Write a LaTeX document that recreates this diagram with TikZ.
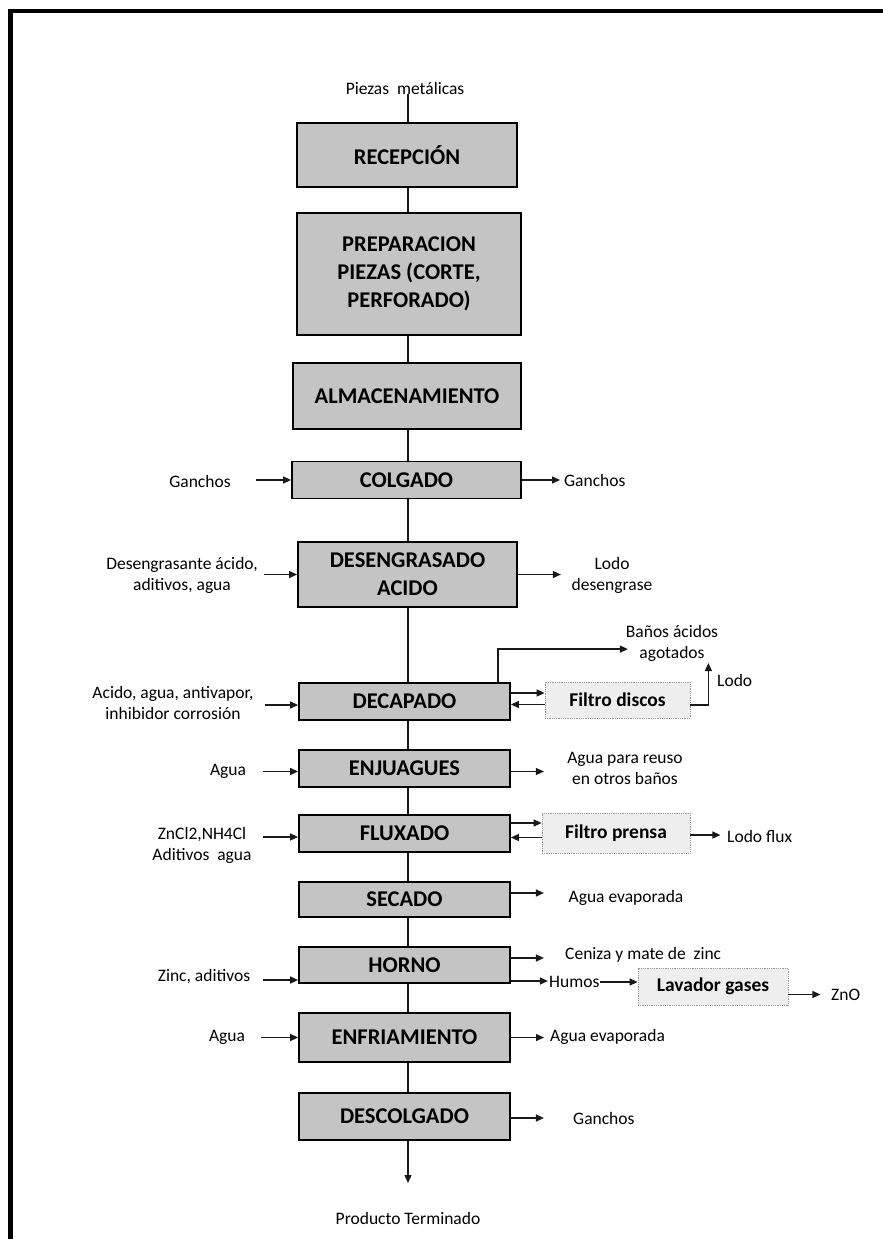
\documentclass[tikz,border=0pt]{standalone}
\usepackage{fontspec}
\setmainfont{Carlito}
\usetikzlibrary{arrows.meta,calc}
\definecolor{boxgray}{HTML}{C4C4C4}
\definecolor{filtfill}{HTML}{EEEEEE}
\definecolor{filtline}{HTML}{9A9A9A}
\begin{document}
\begin{tikzpicture}[x=1pt,y=-1pt,
  box/.style={draw=black, line width=1.8pt, fill=boxgray, inner sep=0pt, align=center,
    font=\fontsize{22.5}{28}\selectfont\bfseries},
  filt/.style={draw=filtline, densely dotted, line width=0.8pt, fill=filtfill, inner sep=0pt,
    font=\fontsize{19.5}{22}\selectfont\bfseries},
  lbl/.style={inner sep=0pt, align=center, font=\fontsize{17.5}{21}\selectfont},
  conn/.style={line width=1.4pt, draw=black!90},
  arr/.style={conn, -{Triangle[length=8pt,width=7pt]}}]
\useasboundingbox (0,0) rectangle (883,1239);
\fill[white] (0,0) rectangle (883,1239);
% frame
\draw[line width=4pt] (8,11.5) -- (883,11.5);
\draw[line width=5pt] (10.5,9.5) -- (10.5,1239);
\coordinate (spine) at (408,0);
% main boxes
\node[lbl] (piezas) at (405,88) {Piezas\ \ metálicas};
\node[box, minimum width=220pt, minimum height=64pt] (rec) at (407,155) {RECEPCIÓN};
\node[box, minimum width=224pt, minimum height=122pt] (prep) at (409,274) {PREPARACION\\PIEZAS (CORTE,\\PERFORADO)};
\node[box, minimum width=228pt, minimum height=66pt] (alm) at (407,396) {ALMACENAMIENTO};
\node[box, minimum width=229pt, minimum height=37pt] (colg) at (406.5,480) {COLGADO};
\node[box, minimum width=219pt, minimum height=65pt] (des) at (407.5,574.5) {DESENGRASADO\\ACIDO};
\node[box, minimum width=211pt, minimum height=37pt] (dec) at (404.5,701.5) {DECAPADO};
\node[box, minimum width=211pt, minimum height=37pt] (enj) at (404.5,768.5) {ENJUAGUES};
\node[box, minimum width=211pt, minimum height=37pt] (flu) at (404.5,833.5) {FLUXADO};
\node[box, minimum width=211pt, minimum height=35pt] (sec) at (404.5,899.5) {SECADO};
\node[box, minimum width=211pt, minimum height=36pt] (hor) at (404.5,965) {HORNO};
\node[box, minimum width=211pt, minimum height=49pt] (enf) at (404.5,1037.5) {ENFRIAMIENTO};
\node[box, minimum width=211pt, minimum height=47pt] (desc) at (404.5,1116.5) {DESCOLGADO};
\node[lbl] (prod) at (408,1218) {Producto\ Terminado};
\coordinate (pend) at (408,1183);
% filters
\node[filt, minimum width=145pt, minimum height=36pt] (fd) at (617.5,700) {Filtro discos};
\node[filt, minimum width=148pt, minimum height=40pt] (fp) at (616,833) {Filtro prensa};
\node[filt, minimum width=150pt, minimum height=37pt] (lav) at (713,986.5) {Lavador gases};
% spine
\draw[conn] (piezas.south -| spine) -- (rec.north -| spine);
\draw[conn] (rec.south -| spine) -- (prep.north -| spine);
\draw[conn] (prep.south -| spine) -- (alm.north -| spine);
\draw[conn] (alm.south -| spine) -- (colg.north -| spine);
\draw[conn] (colg.south -| spine) -- (des.north -| spine);
\draw[conn] (des.south -| spine) -- (dec.north -| spine);
\draw[conn] (dec.south -| spine) -- (enj.north -| spine);
\draw[conn] (enj.south -| spine) -- (flu.north -| spine);
\draw[conn] (flu.south -| spine) -- (sec.north -| spine);
\draw[conn] (sec.south -| spine) -- (hor.north -| spine);
\draw[conn] (hor.south -| spine) -- (enf.north -| spine);
\draw[conn] (enf.south -| spine) -- (desc.north -| spine);
\draw[arr] (desc.south -| spine) -- (pend);
% left labels and inputs
\node[lbl] (gancL) at (200,481) {Ganchos};
\draw[arr] ([shift={(-35,0)}]colg.west) -- (colg.west);
\node[lbl] (desL) at (182,575) {Desengrasante ácido,\\aditivos, agua};
\draw[arr] ([shift={(-33,0)}]des.west) -- (des.west);
\node[lbl] (decL) at (173,703) {Acido, agua, antivapor,\\inhibidor corrosión};
\draw[arr] ([shift={(-33,3.5)}]dec.west) -- ([shift={(0,3.5)}]dec.west);
\node[lbl] (agua1) at (228,771) {Agua};
\draw[arr] ([shift={(-35,3)}]enj.west) -- ([shift={(0,3)}]enj.west);
\node[lbl] (zn) at (202,845) {ZnCl2,NH4Cl\\Aditivos\ \ agua};
\draw[arr] ([shift={(-35,3.5)}]flu.west) -- ([shift={(0,3.5)}]flu.west);
\node[lbl] (zinc) at (204,977) {Zinc, aditivos};
\draw[arr] ([shift={(-35,15)}]hor.west) -- ([shift={(0,15)}]hor.west);
\node[lbl] (agua2) at (227,1037) {Agua};
\draw[arr] ([shift={(-37,0)}]enf.west) -- (enf.west);
% right outputs
\node[lbl, anchor=west] (gancR) at (564,480) {Ganchos};
\draw[arr] (colg.east) -- (colg.east -| gancR.west) [shorten >=4pt];
\node[lbl] (lodoD) at (612,575) {Lodo\\desengrase};
\draw[arr] (des.east) -- ++(43,0);
\node[lbl] (banos) at (672,643) {Baños ácidos\\agotados};
\draw[arr] ([shift={(-13,0)}]dec.north east) -- ++(0,-33) -- ++(130,0);
\draw[arr] ([shift={(0,-8.5)}]dec.east) -- ([shift={(0,-8.5)}]dec.east -| fd.west);
\draw[arr] ([shift={(0,4.5)}]fd.west) -- ([shift={(0,4.5)}]fd.west -| dec.east);
\node[lbl, anchor=west] (lodoF) at (717,680) {Lodo};
\draw[arr] ([shift={(0,5)}]fd.east) -- ++(18,0) -- ++(0,-42);
\node[lbl] (reuso) at (625,768) {Agua para reuso\\en otros baños};
\draw[arr] ([shift={(0,3)}]enj.east) -- ++(33,0);
\draw[arr] ([shift={(0,-10.5)}]flu.east) -- ([shift={(0,-10.5)}]flu.east -| fp.west);
\draw[arr] ([shift={(0,4.5)}]fp.west) -- ([shift={(0,4.5)}]fp.west -| flu.east);
\node[lbl, anchor=west] (lodoflux) at (727,836) {Lodo flux};
\draw[arr] ([shift={(0,2)}]fp.east) -- ++(30,0);
\node[lbl] (aguaev1) at (626,898) {Agua evaporada};
\draw[arr] ([shift={(0,-6.5)}]sec.east) -- ++(33,0);
\node[lbl, anchor=west] (ceniza) at (565,955) {Ceniza y mate de\ \ zinc};
\draw[arr] ([shift={(0,-7)}]hor.east) -- ++(33,0);
\node[lbl, anchor=west] (humos) at (549,982) {Humos};
\draw[arr] ([shift={(0,16)}]hor.east) -- ++(37,0);
\draw[arr] (humos.east) -- (humos.east -| lav.west);
\node[lbl, anchor=west] (zno) at (831,995) {ZnO};
\draw[arr] ([shift={(0,8)}]lav.east) -- ++(32,0);
\node[lbl, anchor=west] (aguaev2) at (550,1037) {Agua evaporada};
\draw[arr, shorten >=6pt] (enf.east) -- (enf.east -| aguaev2.west);
\node[lbl, anchor=west] (gancD) at (573,1118) {Ganchos};
\draw[arr] ([shift={(0,1.5)}]desc.east) -- ++(33,0);
\end{tikzpicture}
\end{document}
